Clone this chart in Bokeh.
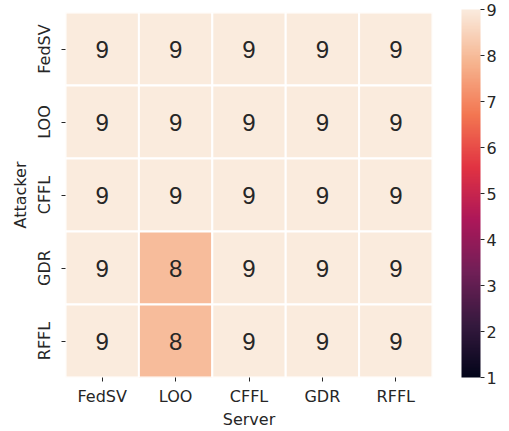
import math
import numpy as np
from bokeh.plotting import figure
from bokeh.models import ColumnDataSource, LinearColorMapper, ColorBar, FixedTicker
from bokeh.embed import file_html
from bokeh.resources import INLINE

servers = ["FedSV", "LOO", "CFFL", "GDR", "RFFL"]
attackers = ["FedSV", "LOO", "CFFL", "GDR", "RFFL"]
values = [
    [9, 9, 9, 9, 9],
    [9, 9, 9, 9, 9],
    [9, 9, 9, 9, 9],
    [9, 8, 9, 9, 9],
    [9, 8, 9, 9, 9],
]
vmin, vmax = 1, 9
cbar_ticks = [1, 2, 3, 4, 5, 6, 7, 8, 9]

# rocket colormap anchors
anchors = [(0.0, "#03051a"), (1/7, "#35193e"), (2/7, "#701f57"), (3/7, "#ad1759"),
           (4/7, "#e13342"), (5/7, "#f37651"), (6/7, "#f6b48f"), (1.0, "#faebdd")]
pos = np.array([a[0] for a in anchors])
rgb = np.array([[int(c[i:i+2], 16) for i in (1, 3, 5)] for _, c in anchors], dtype=float)
palette = []
for t in np.linspace(0, 1, 256):
    r, g, b = (np.interp(t, pos, rgb[:, k]) for k in range(3))
    palette.append("#%02x%02x%02x" % (int(round(r)), int(round(g)), int(round(b))))

xs, ys, vs = [], [], []
for i, a in enumerate(attackers):
    for j, s in enumerate(servers):
        xs.append(s); ys.append(a); vs.append(values[i][j])
src = ColumnDataSource(dict(x=xs, y=ys, v=vs, t=[str(v) for v in vs]))

mapper = LinearColorMapper(palette=palette, low=vmin, high=vmax)

p = figure(x_range=servers, y_range=list(reversed(attackers)),
           width=509, height=431,
           output_backend="svg", toolbar_location=None,
           min_border_left=65, min_border_top=12, min_border_bottom=51, min_border_right=77)
p.rect("x", "y", 1, 1, source=src, fill_color={"field": "v", "transform": mapper},
       line_color="white", line_width=2)
p.text("x", "y", text="t", source=src, text_align="center", text_baseline="middle",
       text_font_size="24px", text_color="#262626")

for ax in (p.xaxis[0], p.yaxis[0]):
    ax.axis_line_color = None
    ax.major_tick_in = 0
    ax.major_tick_out = 4
    ax.major_tick_line_color = "#262626"
    ax.major_label_text_font_size = "16px"
    ax.major_label_text_color = "#262626"
    ax.major_label_text_font = "DejaVu Sans"
    ax.axis_label_text_font = "DejaVu Sans"
    ax.axis_label_text_font_size = "16px"
    ax.axis_label_text_font_style = "normal"
    ax.axis_label_text_color = "#262626"
    ax.minor_tick_line_color = None
p.xaxis.axis_label = "Server"
p.yaxis.axis_label = "Attacker"
p.yaxis.major_label_orientation = "vertical"
p.xaxis.major_label_standoff = 5
p.xaxis.axis_label_standoff = 1
p.yaxis.axis_label_standoff = 2
p.yaxis.major_label_standoff = 8
p.grid.grid_line_color = None
p.outline_line_color = None

cb = ColorBar(color_mapper=mapper, ticker=FixedTicker(ticks=cbar_ticks),
              width=19, height=368, margin=0, padding=0, label_standoff=2,
              major_tick_in=0, major_tick_out=4, major_tick_line_color="#262626",
              major_label_text_font_size="16px", major_label_text_color="#262626",
              major_label_text_font="DejaVu Sans",
              bar_line_color=None, border_line_color=None, background_fill_alpha=0,
              location=(367 + 29, 0))
p.add_layout(cb, "center")

open("out.html", "w").write(file_html(p, INLINE))
